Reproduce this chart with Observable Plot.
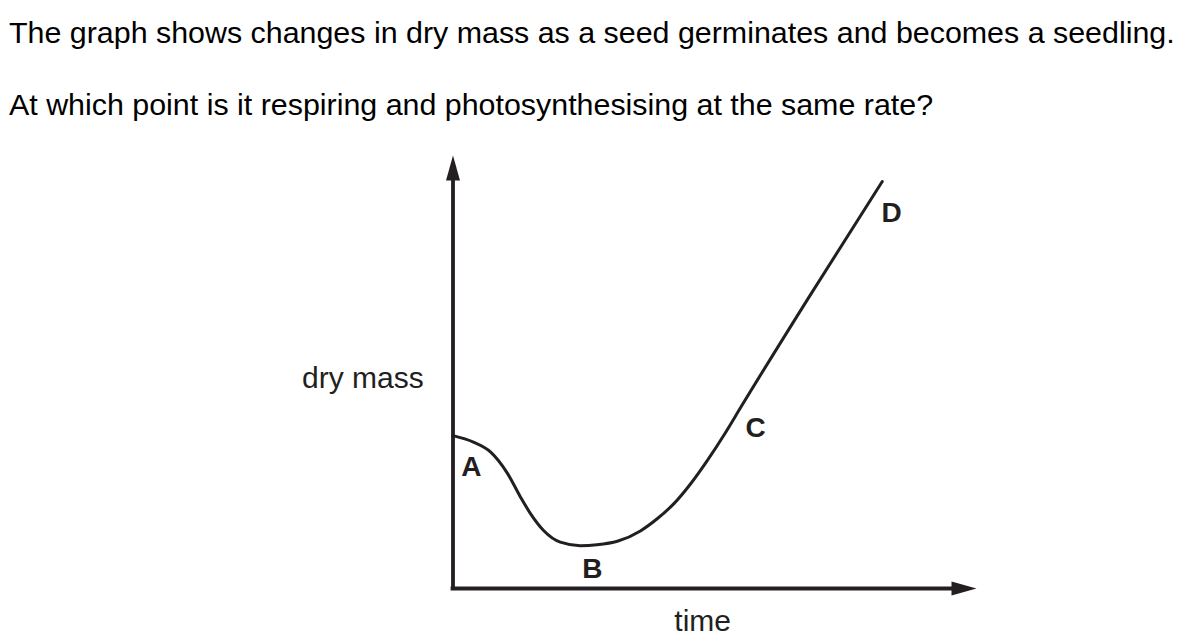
<!DOCTYPE html>
<html>
<head>
<meta charset="utf-8">
<script src="https://cdn.jsdelivr.net/npm/d3@7"></script>
<script src="https://cdn.jsdelivr.net/npm/@observablehq/plot@0.6"></script>
<style>
  html, body { margin: 0; padding: 0; background: #fff; }
  #header { position: relative; width: 1187px; height: 140px; font-family: "Liberation Sans", Arial, sans-serif; font-size: 30.4px; line-height: 30px; color: #000; }
  #header div { position: absolute; left: 9px; white-space: nowrap; }
  #chart svg { display: block; }
</style>
</head>
<body>
<div id="header">
  <div id="q1" style="top:17px">The graph shows changes in dry mass as a seed germinates and becomes a seedling.</div>
  <div id="q2" style="top:89px">At which point is it respiring and photosynthesising at the same rate?</div>
</div>
<div id="chart"></div>
<script>
// Curve (time and dry mass in arbitrary units, axis length = 100)
const time    = [0, 3.9, 7.2, 10.4, 12.9, 14.8, 17.3, 20.5, 24.3, 27.5, 31.4, 35.8, 39.0, 42.2, 45.4, 48.6, 52.1, 55.0, 68.0, 82.0];
const dryMass = [35.3, 33.8, 31.5, 26.6, 21.1, 17.3, 13.4, 10.7, 9.9, 10.1, 10.9, 13.3, 16.1, 19.6, 24.2, 29.6, 36.1, 41.9, 67.3, 94.0];

// Point labels
const pointLabels = ["A", "B", "C", "D"];
const labelTime   = [3.5, 26.6, 57.8, 83.8];
const labelMass   = [28.0, 4.4, 37.0, 86.8];

// Axis extents
const axisMax = 100;

const curve = time.map((t, i) => ({t, m: dryMass[i]}));
const labels = pointLabels.map((l, i) => ({l, t: labelTime[i], m: labelMass[i]}));

const ink = "#231f20";

// elongated filled arrowhead with its tip at the anchor point (pointing up)
const arrowHead = {
  draw(context) {
    context.moveTo(0, 0);
    context.lineTo(-7, 25);
    context.lineTo(7, 25);
    context.closePath();
  }
};

const chart = Plot.plot({
  width: 1187,
  height: 502,
  marginLeft: 452.5,
  marginRight: 211,
  marginTop: 15,
  marginBottom: 54,
  x: {domain: [0, axisMax], axis: null},
  y: {domain: [0, axisMax], axis: null},
  style: {fontFamily: "'Liberation Sans', Arial, sans-serif", fontSize: "30px", color: ink, background: "white"},
  marks: [
    Plot.ruleX([0], {y1: axisMax, y2: 0, stroke: ink, strokeWidth: 3.8, strokeLinecap: "square", insetTop: 14}),
    Plot.ruleY([0], {x1: 0, x2: axisMax, stroke: ink, strokeWidth: 3.8, strokeLinecap: "square", insetRight: 14}),
    Plot.dot([{t: 0, m: axisMax}], {x: "t", y: "m", symbol: arrowHead, fill: ink, stroke: null}),
    Plot.dot([{t: axisMax, m: 0}], {x: "t", y: "m", symbol: arrowHead, rotate: 90, fill: ink, stroke: null}),
    Plot.line(curve, {x: "t", y: "m", curve: "monotone-x", stroke: ink, strokeWidth: 3}),
    Plot.text(labels, {x: "t", y: "m", text: "l", fontSize: 28, fontWeight: "bold", fill: ink}),
    Plot.text(["dry mass"], {x: -5.6, y: 48.6, text: d => d, textAnchor: "end", fontSize: 30, fill: ink}),
    Plot.text(["time"], {x: 47.7, y: -7.7, text: d => d, fontSize: 30, fill: ink})
  ]
});
document.getElementById("chart").appendChild(chart);
</script>
</body>
</html>
